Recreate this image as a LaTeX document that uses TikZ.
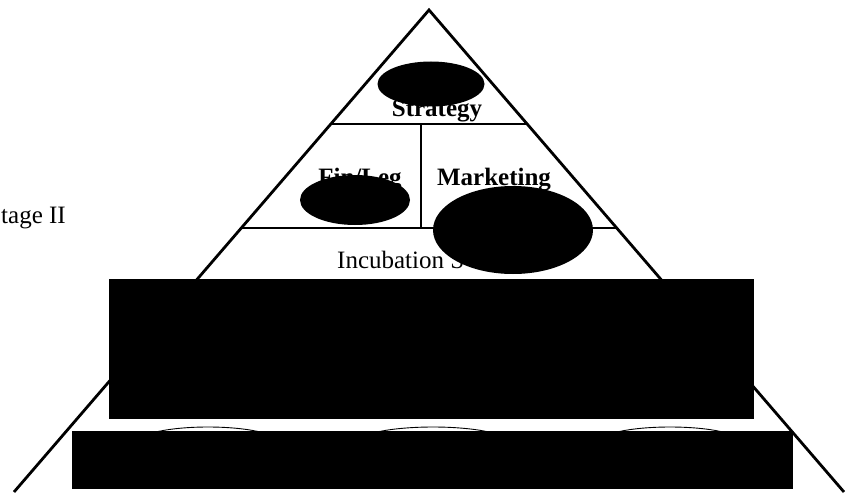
\documentclass[tikz,border=0pt]{standalone}
\usepackage{fontspec}
\setmainfont{Liberation Serif}
\usetikzlibrary{shapes.geometric}
\begin{document}
\begin{tikzpicture}[x=1pt,y=-1pt,
  edge/.style={line width=2.8pt, line join=miter},
  inner/.style={line width=2.2pt},
  lbl/.style={anchor=base, inner sep=0pt, font=\fontsize{25}{30}\selectfont},
  blot/.style={ellipse, fill=black, inner sep=0pt},
  arcblot/.style={ellipse, draw=black, line width=0.9pt, fill=white, inner sep=0pt},
  slab/.style={fill=black, draw=none, inner sep=0pt, anchor=north west}]
\useasboundingbox (0,0) rectangle (850,492);
% triangle
\coordinate (apex) at (429,10);
\coordinate (bl) at (14,492);
\coordinate (br) at (844,492);
\draw[edge] (bl) -- (apex) -- (br);
% inner divisions
\coordinate (s1) at (331,124);
\coordinate (s2) at (527,124);
\coordinate (v1) at (421,124);
\coordinate (v2) at (421,228);
\coordinate (m1) at (241,228);
\coordinate (m2) at (617,228);
\draw[inner] (s1) -- (s2);
\draw[inner] (v1) -- (v2);
\draw[inner] (m1) -- (m2);
% texts
\node[lbl, font=\fontsize{25}{30}\selectfont\bfseries] (strat) at (437,117) {Strategy};
\node[lbl, font=\fontsize{25}{30}\selectfont\bfseries] (fin) at (360,185) {Fin/Leg};
\node[lbl, font=\fontsize{25}{30}\selectfont\bfseries] (mkt) at (494,185) {Marketing};
\node[lbl, anchor=base west] (inc) at (337,268) {Incubation S};
\node[lbl, anchor=base west] (stage) at (1,223) {tage II};
% redaction blots
\node[blot, minimum width=107pt, minimum height=45pt] (e1) at (431,84) {};
\node[blot, minimum width=110pt, minimum height=50pt] (e2) at (355,200) {};
\node[blot, minimum width=160pt, minimum height=88pt] (e3) at (513,230) {};
\node[arcblot, minimum width=140pt, minimum height=30pt] (a1) at (208,442) {};
\node[arcblot, minimum width=150pt, minimum height=30pt] (a2) at (433,442) {};
\node[arcblot, minimum width=142pt, minimum height=30pt] (a3) at (670,442) {};
\node[slab, minimum width=645pt, minimum height=140pt] (r1) at (109,279) {};
\node[slab, minimum width=721pt, minimum height=58pt] (r2) at (72,431) {};
\end{tikzpicture}
\end{document}
